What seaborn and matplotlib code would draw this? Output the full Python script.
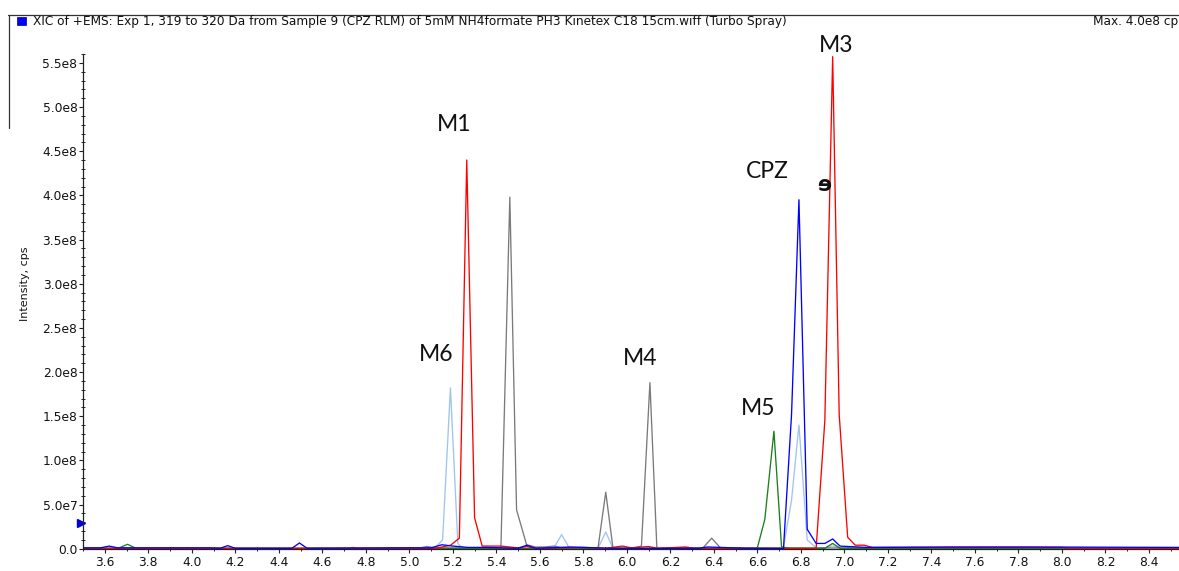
import numpy as np
import pandas as pd
import matplotlib
matplotlib.use("Agg")
import matplotlib.pyplot as plt
from matplotlib.ticker import FixedLocator, MultipleLocator
from matplotlib.lines import Line2D
from matplotlib.patches import Rectangle
import seaborn as sns

# ---------------- data (time in min, intensity in cps) ----------------
red_t = [3.50, 5.12, 5.19, 5.23, 5.264, 5.30, 5.335, 5.42, 5.50, 5.54, 5.58, 5.80, 5.90,
         5.98, 6.02, 6.10, 6.14, 6.27, 6.31, 6.87, 6.910, 6.946, 6.976, 7.015, 7.05, 7.09,
         7.13, 8.00, 8.03, 8.54]
red_v = [0.5e6, 0.5e6, 4e6, 1.2e7, 4.4e8, 3.5e7, 3e6, 3e6, 1e6, 2.5e6, 0.5e6, 1.5e6, 0.5e6,
         3e6, 1e6, 2.5e6, 0.5e6, 2e6, 0.5e6, 0.3e6, 1.45e8, 5.57e8, 1.52e8, 1.3e7, 4e6, 4e6,
         1.5e6, 1.5e6, 0.5e6, 0.5e6]

gray_t = [3.50, 4.72, 4.74, 4.77, 5.05, 5.08, 5.12, 5.421, 5.462, 5.493, 5.539, 5.58, 5.62,
          5.665, 5.70, 5.867, 5.903, 5.936, 6.02, 6.067, 6.106, 6.138, 6.35, 6.39, 6.43, 8.54]
gray_v = [0.5e6, 0.5e6, 1.5e6, 0.5e6, 1e6, 2.5e6, 1e6, 1e6, 3.98e8, 4.4e7, 4.5e6, 2e6, 2e6,
          3e6, 1e6, 0.3e6, 6.4e7, 1e6, 0.5e6, 3e6, 1.88e8, 0.3e6, 1e6, 1.2e7, 1e6, 0.5e6]

lblue_t = [3.50, 5.08, 5.12, 5.153, 5.189, 5.223, 5.246, 5.665, 5.70, 5.735, 5.867, 5.903,
           5.936, 6.719, 6.757, 6.791, 6.829, 6.87, 6.91, 6.946, 6.98, 8.54]
lblue_v = [0.5e6, 0.5e6, 1.5e6, 1e7, 1.82e8, 6e6, 0.5e6, 1e6, 1.6e7, 1e6, 0.3e6, 1.9e7,
           0.5e6, 0.3e6, 5.5e7, 1.4e8, 1e7, 1e6, 1e6, 3e6, 1e6, 0.5e6]

green_t = [3.50, 3.66, 3.705, 3.745, 6.599, 6.634, 6.676, 6.711, 6.75, 6.91, 6.946, 6.98, 8.54]
green_v = [0.3e6, 0.3e6, 5e6, 0.3e6, 0.3e6, 3.3e7, 1.33e8, 2e6, 0.5e6, 0.5e6, 6e6, 0.5e6, 0.3e6]

blue_t = [3.50, 3.58, 3.62, 3.66, 4.08, 4.13, 4.165, 4.20, 4.46, 4.495, 4.53, 5.00, 5.10, 5.15,
          5.20, 5.27, 5.36, 5.50, 5.54, 5.58, 5.74, 5.80, 5.93, 6.02, 6.33, 6.37, 6.43, 6.55,
          6.72, 6.757, 6.791, 6.829, 6.87, 6.91, 6.946, 6.98, 7.10, 7.50, 7.83, 8.54]
blue_v = [1e6, 1e6, 3e6, 1e6, 1e6, 0.5e6, 3.5e6, 0.5e6, 0.5e6, 6.5e6, 0.5e6, 1e6, 1e6, 4.5e6,
          3e6, 1.5e6, 1.5e6, 0.5e6, 4e6, 0.5e6, 2e6, 1.5e6, 0.5e6, 0.5e6, 0.5e6, 2e6, 1.5e6, 0.5e6,
          0.3e6, 1.52e8, 3.95e8, 2.2e7, 6e6, 6e6, 1.1e7, 3e6, 1.5e6, 2e6, 2e6, 1.5e6]

series_names = ["lightblue", "gray", "green", "red", "blue"]
series_colors = {"lightblue": "#9ec5ee", "gray": "#7a7a7a", "green": "#1b7f1b",
                 "red": "#ff0000", "blue": "#0000ff"}

peak_labels = ["M1", "M6", "M4", "CPZ", "M3", "M5"]
peak_label_t = [5.205, 5.122, 6.060, 6.644, 6.961, 6.602]
peak_label_v = [4.723e8, 2.121e8, 2.076e8, 4.197e8, 5.628e8, 1.510e8]

y_ticks = [0, 5e7, 1e8, 1.5e8, 2e8, 2.5e8, 3e8, 3.5e8, 4e8, 4.5e8, 5e8, 5.5e8]
y_ticklabels = ["0.0", "5.0e7", "1.0e8", "1.5e8", "2.0e8", "2.5e8", "3.0e8", "3.5e8",
                "4.0e8", "4.5e8", "5.0e8", "5.5e8"]
x_ticks = [3.6, 3.8, 4.0, 4.2, 4.4, 4.6, 4.8, 5.0, 5.2, 5.4, 5.6, 5.8, 6.0, 6.2, 6.4, 6.6,
           6.8, 7.0, 7.2, 7.4, 7.6, 7.8, 8.0, 8.2, 8.4]
x_ticklabels = ["%.1f" % v for v in x_ticks]

title_text = ("XIC of +EMS: Exp 1, 319 to 320 Da from Sample 9 (CPZ RLM) of 5mM NH4formate "
              "PH3 Kinetex C18 15cm.wiff (Turbo Spray)")
max_text = "Max. 4.0e8 cp"

# ---------------- long-form table ----------------
frames = []
for name, t, v in [("red", red_t, red_v), ("gray", gray_t, gray_v),
                   ("lightblue", lblue_t, lblue_v), ("green", green_t, green_v),
                   ("blue", blue_t, blue_v)]:
    frames.append(pd.DataFrame({"time": t, "intensity": v, "series": name}))
df = pd.concat(frames, ignore_index=True)

# ---------------- figure ----------------
sns.set_style("white")
plt.rcParams["font.family"] = ["DejaVu Sans"]

W, H = 1179, 571
fig = plt.figure(figsize=(W / 100, H / 100), dpi=100)
ax_left, ax_right, ax_top, ax_bot = 83, 1179, 54, 549
ax = fig.add_axes([ax_left / W, 1 - ax_bot / H, (ax_right - ax_left) / W, (ax_bot - ax_top) / H])

for name in series_names:
    sub = df[df["series"] == name]
    sns.lineplot(data=sub, x="time", y="intensity", color=series_colors[name],
                 linewidth=0.95, estimator=None, ax=ax, legend=False)

ax.set_xlim(3.50, 8.538)
ax.set_ylim(-0.3e6, 5.60e8)

for s in ["top", "right"]:
    ax.spines[s].set_visible(False)
for s in ["left", "bottom"]:
    ax.spines[s].set_color("#222222")
    ax.spines[s].set_linewidth(0.9)

ax.yaxis.set_major_locator(FixedLocator(y_ticks))
ax.set_yticklabels(y_ticklabels)
ax.yaxis.set_minor_locator(MultipleLocator(1e7))
ax.xaxis.set_major_locator(FixedLocator(x_ticks))
ax.set_xticklabels(x_ticklabels)
ax.xaxis.set_minor_locator(MultipleLocator(0.1))

ax.tick_params(axis="both", which="major", direction="out", length=3.2, width=0.8,
               color="#222222", labelsize=8.8, labelcolor="#111111")
ax.tick_params(axis="y", which="major", pad=0.8)
ax.tick_params(axis="x", which="major", pad=1.6)
ax.tick_params(axis="both", which="minor", direction="inout", length=3.0, width=0.7,
               color="#222222")
ax.tick_params(axis="both", which="both", bottom=True, left=True)

ax.set_xlabel("Time, min", fontsize=8.5, color="#111111")
ax.xaxis.set_label_coords(0.5, -0.048)
ax.set_ylabel("Intensity, cps", fontsize=8, color="#111111")
ax.yaxis.set_label_coords(-0.048, 0.535)

# small blue marker on the y axis
ax.plot([3.50], [2.95e7], marker=">", color="#0000dd", markersize=6, clip_on=False,
        linestyle="none",
        transform=ax.transData + matplotlib.transforms.ScaledTranslation(-2 / 100, 0, fig.dpi_scale_trans))

# peak annotations
for lab, t, v in zip(peak_labels, peak_label_t, peak_label_v):
    ax.text(t, v, lab, ha="center", va="baseline", fontsize=16.5, family="Lato",
            color="#111111", clip_on=False)
ax.text(6.906, 4.118e8, "ɘ", ha="center", va="center", fontsize=15, fontweight="bold",
        color="#111111", clip_on=False)

# header frame, title, marker
fig.add_artist(Line2D([8 / W, 1.0], [1 - 15 / H, 1 - 15 / H], color="#333333", lw=0.9))
fig.add_artist(Line2D([9 / W, 9 / W], [1 - 15 / H, 1 - 128 / H], color="#333333", lw=0.9))
fig.add_artist(Rectangle((17 / W, 1 - 25 / H), 9 / W, 8 / H, facecolor="#0000ff",
                         edgecolor="#000066", lw=0.5, transform=fig.transFigure))
fig.text(33 / W, 1 - 21 / H, title_text, fontsize=8.7, va="center", ha="left", color="#111111")
fig.text(1178 / W, 1 - 21 / H, max_text, fontsize=8.7, va="center", ha="right", color="#111111")

fig.savefig("out.png", dpi=100)
